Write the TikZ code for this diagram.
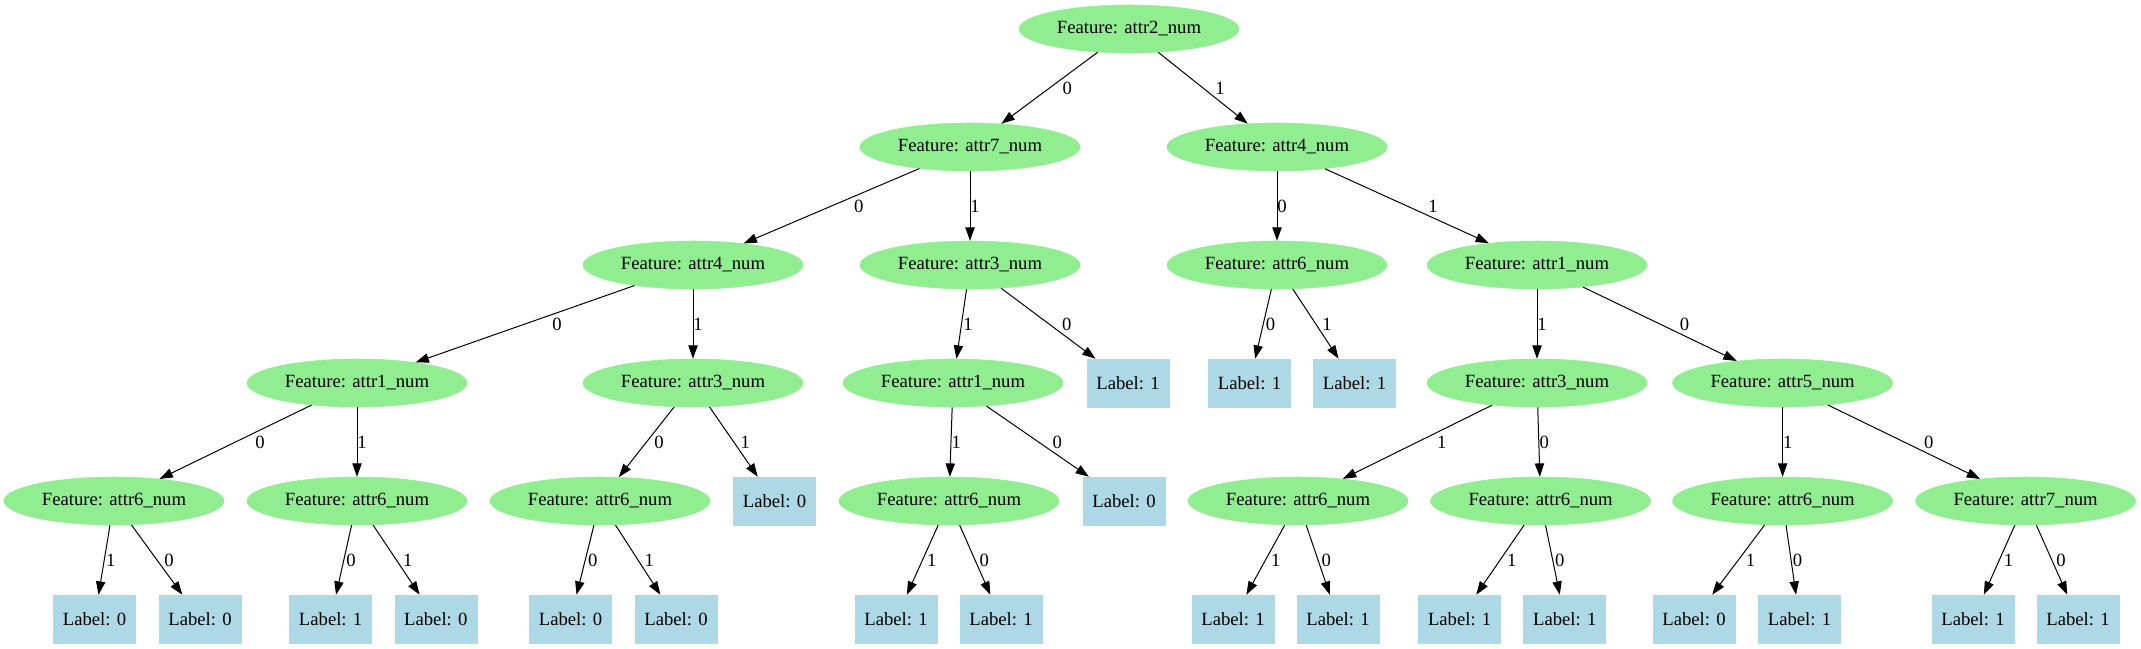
\documentclass[tikz,border=0pt]{standalone}
\usepackage{fontspec}
\setmainfont{Liberation Serif}
\usetikzlibrary{arrows.meta,calc,shapes.geometric}
\definecolor{lgreen}{HTML}{90EE90}
\definecolor{lblue}{HTML}{ADD8E6}
\tikzset{
 feat/.style={ellipse, fill=lgreen, draw=lgreen, minimum width=165pt, minimum height=36pt, inner sep=0pt, font=\fontsize{14}{16}\selectfont},
 leaf/.style={rectangle, fill=lblue, draw=lblue, minimum width=61.5pt, minimum height=36pt, inner sep=0pt, font=\fontsize{14}{16}\selectfont},
 conn/.style={draw=black, line width=0.75pt, -{Triangle[length=10pt,width=7pt]}},
 elabel/.style={inner sep=0pt, font=\fontsize{14}{16}\selectfont}
}
\newcommand{\tedge}[3]{%
 \draw[conn] (#1) -- (#2);
 \path let \p1=(#1.center), \p2=(#2.center), \n1={abs((\x2-\x1)/(\y2-\y1))*7.1+3.8} in
   node[elabel, xshift=\n1] at ($(\p1)!0.5!(\p2)$) {#3};}
\begin{document}
\begin{tikzpicture}[x=0.75pt,y=-0.75pt]
\useasboundingbox (0,0) rectangle (2141,649);
% level 0-2
\node[feat] (r) at (1129,29) {Feature: attr2\_num};
\node[feat] (a) at (970,147) {Feature: attr7\_num};
\node[feat] (b) at (1277,147) {Feature: attr4\_num};
\node[feat] (aa) at (693,265) {Feature: attr4\_num};
\node[feat] (ab) at (970,265) {Feature: attr3\_num};
\node[feat] (ba) at (1277,265) {Feature: attr6\_num};
\node[feat] (bb) at (1537,265) {Feature: attr1\_num};
% level 3
\node[feat] (aaa) at (357,383) {Feature: attr1\_num};
\node[feat] (aab) at (693,383) {Feature: attr3\_num};
\node[feat] (aba) at (953,383) {Feature: attr1\_num};
\node[leaf] (abb) at (1128,383) {Label: 1};
\node[leaf] (baa) at (1249.5,383) {Label: 1};
\node[leaf] (bab) at (1354.5,383) {Label: 1};
\node[feat] (bba) at (1537,383) {Feature: attr3\_num};
\node[feat] (bbb) at (1782.6,383) {Feature: attr5\_num};
% level 4
\node[feat] (aaaa) at (114,501) {Feature: attr6\_num};
\node[feat] (aaab) at (357,501) {Feature: attr6\_num};
\node[feat] (aaba) at (600,501) {Feature: attr6\_num};
\node[leaf] (aabb) at (774.5,501) {Label: 0};
\node[feat] (abaa) at (949,501) {Feature: attr6\_num};
\node[leaf] (abab) at (1124,501) {Label: 0};
\node[feat] (bbaa) at (1298,501) {Feature: attr6\_num};
\node[feat] (bbab) at (1540.6,501) {Feature: attr6\_num};
\node[feat] (bbba) at (1782.6,501) {Feature: attr6\_num};
\node[feat] (bbbb) at (2025.6,501) {Feature: attr7\_num};
% level 5
\node[leaf] (aaaa1) at (94.5,619) {Label: 0};
\node[leaf] (aaaa2) at (200,619) {Label: 0};
\node[leaf] (aaab1) at (330.6,619) {Label: 1};
\node[leaf] (aaab2) at (435.8,619) {Label: 0};
\node[leaf] (aaba1) at (570.5,619) {Label: 0};
\node[leaf] (aaba2) at (676,619) {Label: 0};
\node[leaf] (abaa1) at (896,619) {Label: 1};
\node[leaf] (abaa2) at (1001,619) {Label: 1};
\node[leaf] (bbaa1) at (1233,619) {Label: 1};
\node[leaf] (bbaa2) at (1338,619) {Label: 1};
\node[leaf] (bbab1) at (1459.6,619) {Label: 1};
\node[leaf] (bbab2) at (1564.7,619) {Label: 1};
\node[leaf] (bbba1) at (1694,619) {Label: 0};
\node[leaf] (bbba2) at (1799.5,619) {Label: 1};
\node[leaf] (bbbb1) at (1973,619) {Label: 1};
\node[leaf] (bbbb2) at (2078,619) {Label: 1};
% edges
\tedge{r}{a}{0}
\tedge{r}{b}{1}
\tedge{a}{aa}{0}
\tedge{a}{ab}{1}
\tedge{b}{ba}{0}
\tedge{b}{bb}{1}
\tedge{aa}{aaa}{0}
\tedge{aa}{aab}{1}
\tedge{ab}{aba}{1}
\tedge{ab}{abb}{0}
\tedge{ba}{baa}{0}
\tedge{ba}{bab}{1}
\tedge{bb}{bba}{1}
\tedge{bb}{bbb}{0}
\tedge{aaa}{aaaa}{0}
\tedge{aaa}{aaab}{1}
\tedge{aab}{aaba}{0}
\tedge{aab}{aabb}{1}
\tedge{aba}{abaa}{1}
\tedge{aba}{abab}{0}
\tedge{bba}{bbaa}{1}
\tedge{bba}{bbab}{0}
\tedge{bbb}{bbba}{1}
\tedge{bbb}{bbbb}{0}
\tedge{aaaa}{aaaa1}{1}
\tedge{aaaa}{aaaa2}{0}
\tedge{aaab}{aaab1}{0}
\tedge{aaab}{aaab2}{1}
\tedge{aaba}{aaba1}{0}
\tedge{aaba}{aaba2}{1}
\tedge{abaa}{abaa1}{1}
\tedge{abaa}{abaa2}{0}
\tedge{bbaa}{bbaa1}{1}
\tedge{bbaa}{bbaa2}{0}
\tedge{bbab}{bbab1}{1}
\tedge{bbab}{bbab2}{0}
\tedge{bbba}{bbba1}{1}
\tedge{bbba}{bbba2}{0}
\tedge{bbbb}{bbbb1}{1}
\tedge{bbbb}{bbbb2}{0}
\end{tikzpicture}
\end{document}
